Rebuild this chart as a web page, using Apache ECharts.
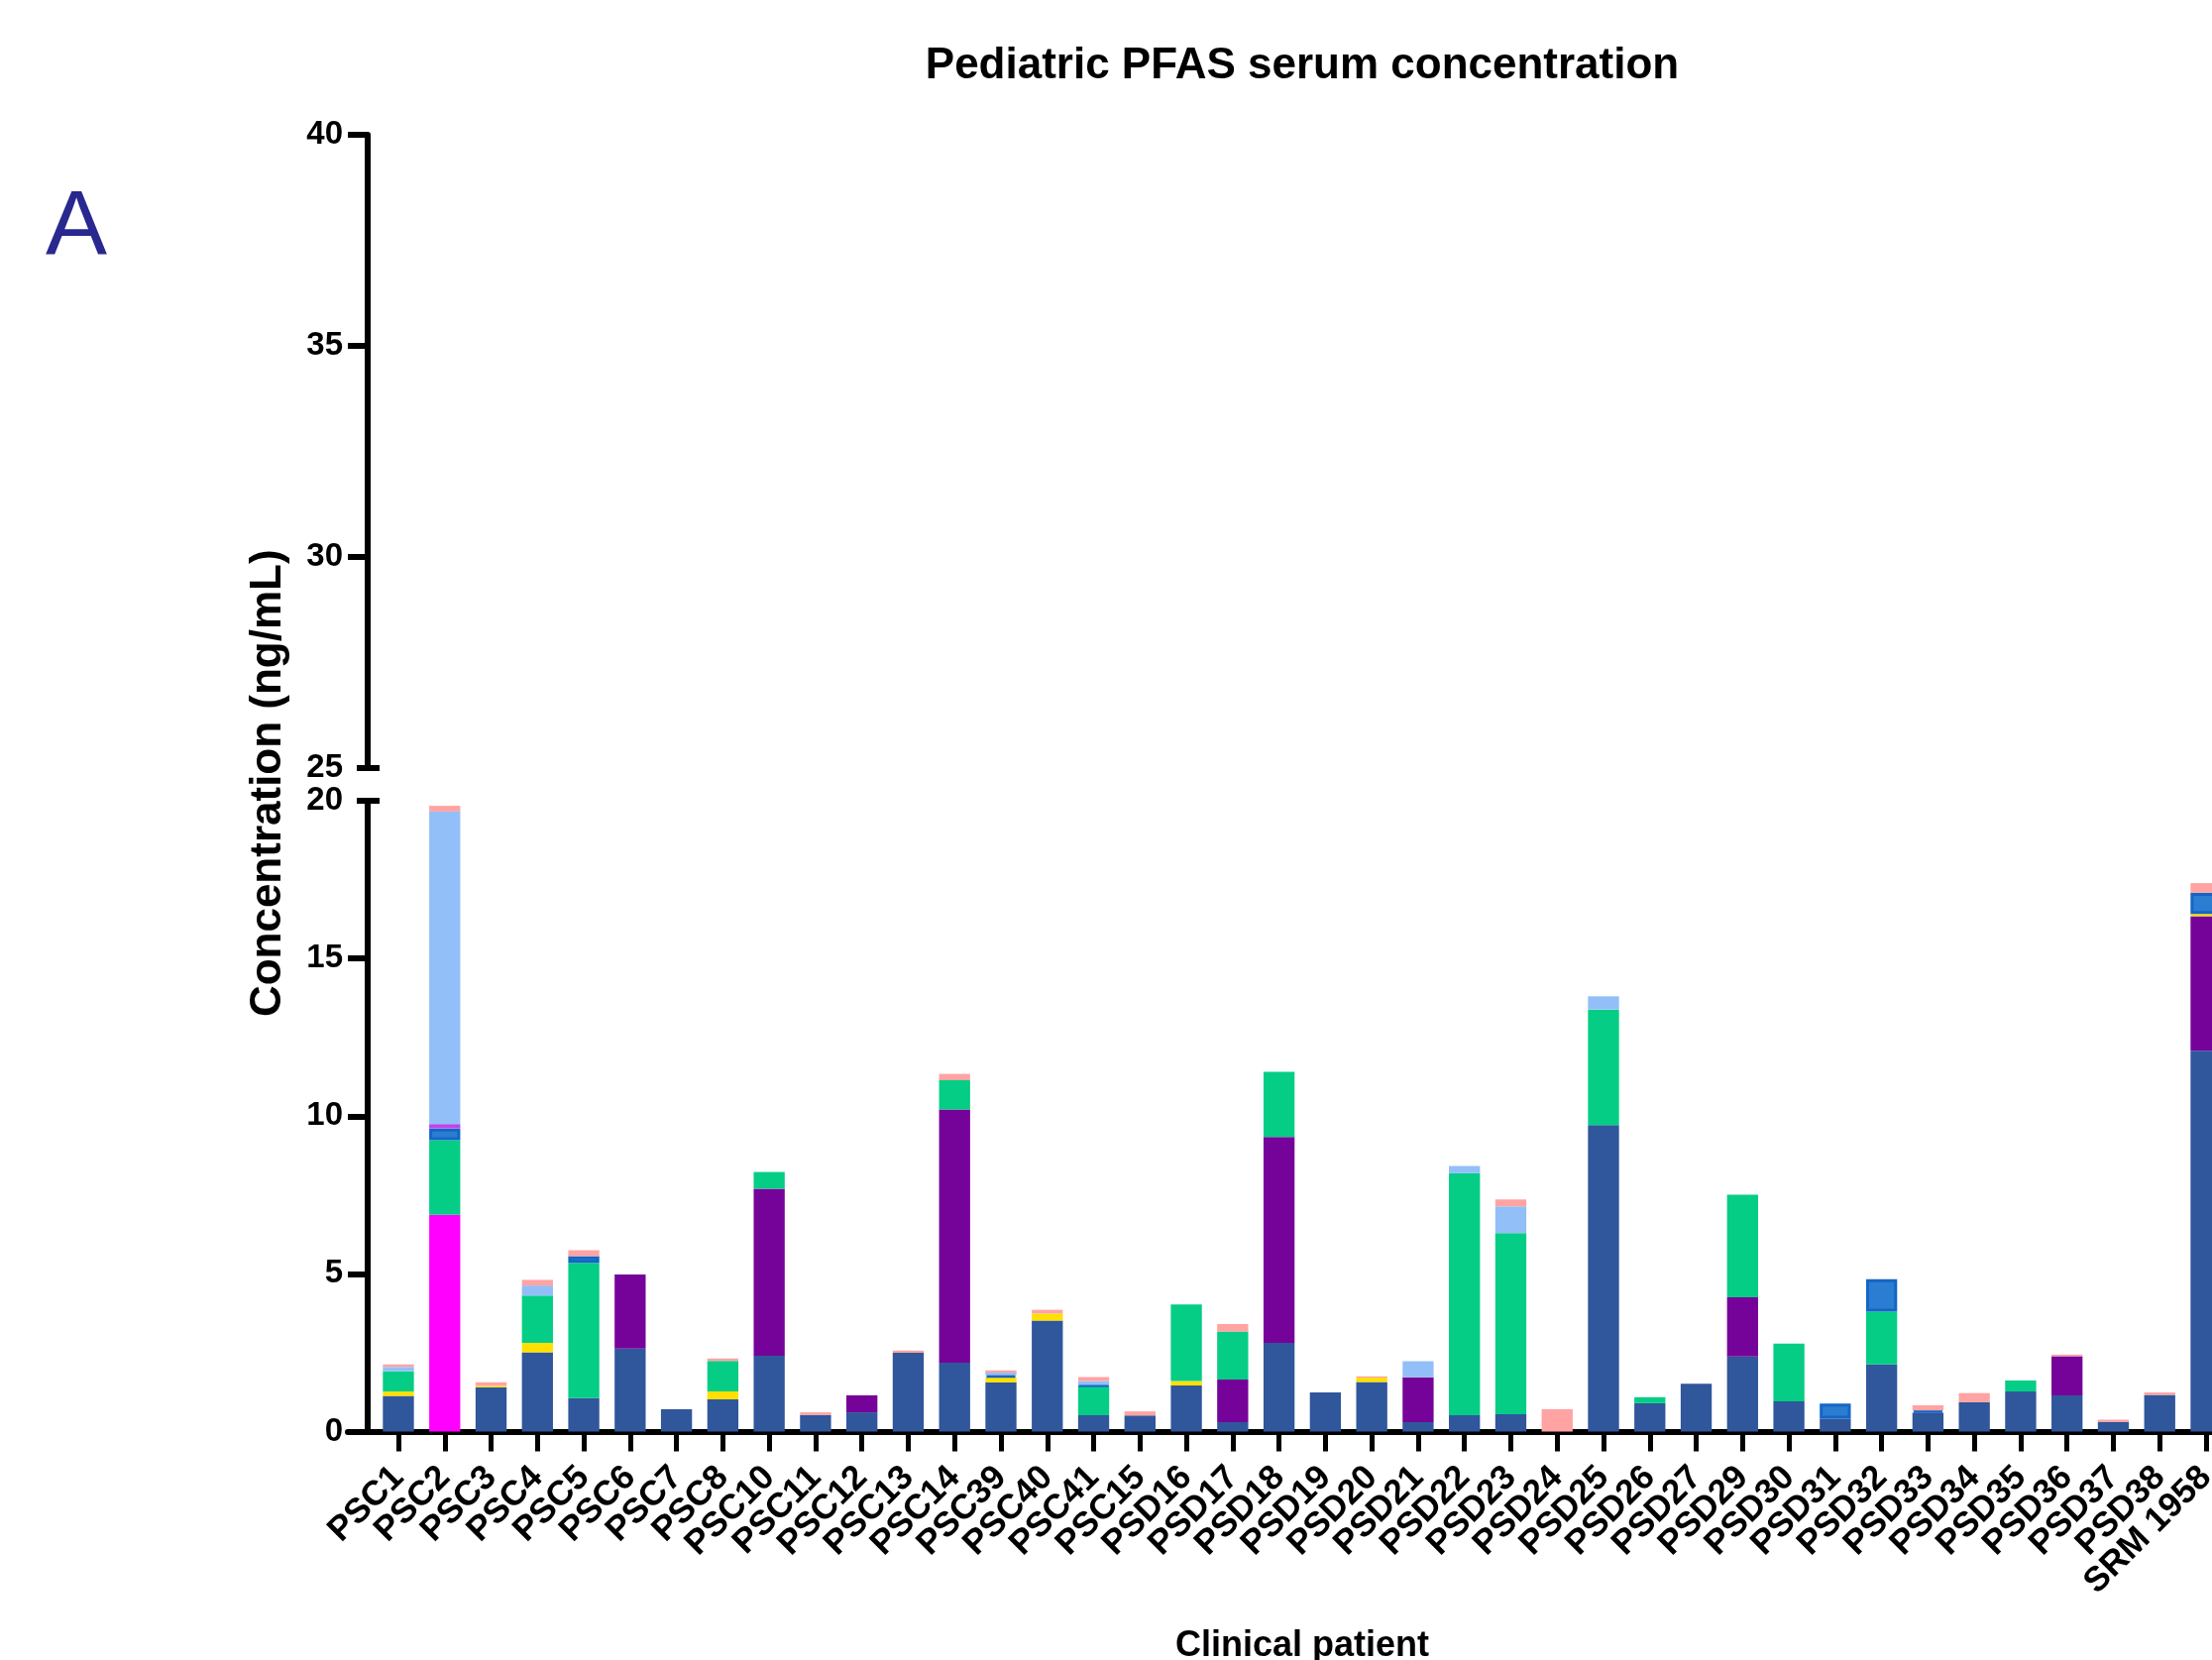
<!DOCTYPE html>
<html>
<head>
<meta charset="utf-8">
<script src="https://cdn.jsdelivr.net/npm/echarts@6/dist/echarts.min.js"></script>
<style>
html,body{margin:0;padding:0;background:#fff;overflow:hidden;}
#chart{width:2270px;height:1675px;}
</style>
</head>
<body>
<div id="chart"></div>
<script>
const categories = ['PSC1','PSC2','PSC3','PSC4','PSC5','PSC6','PSC7','PSC8','PSC10','PSC11','PSC12','PSC13','PSC14','PSC39','PSC40','PSC41','PSC15','PSD16','PSD17','PSD18','PSD19','PSD20','PSD21','PSD22','PSD23','PSD24','PSD25','PSD26','PSD27','PSD29','PSD30','PSD31','PSD32','PSD33','PSD34','PSD35','PSD36','PSD37','PSD38','SRM 1958'];

const analyte1 = [1.13,null,1.41,2.51,1.06,2.63,0.71,1.02,2.40,0.53,0.61,2.50,2.18,1.56,3.52,0.52,0.51,1.46,0.30,2.81,1.24,1.57,0.30,0.52,0.55,null,9.72,0.90,1.52,2.38,0.96,0.41,2.13,0.60,0.93,1.27,1.15,0.30,1.16,12.07];
const analyte2 = [null,6.87,null,null,null,null,null,null,null,null,null,null,null,null,null,null,null,null,null,null,null,null,null,null,null,null,null,null,null,null,null,null,null,null,null,null,null,null,null,null];
const analyte3 = [null,null,null,null,null,2.35,null,null,5.30,null,0.54,null,8.03,null,null,null,null,null,1.35,6.53,null,null,1.42,null,null,null,null,null,null,1.88,null,null,null,null,null,null,1.24,null,null,4.27];
const analyte4 = [0.14,null,0.04,0.30,null,null,null,0.25,null,null,null,null,null,0.16,0.22,null,null,0.14,null,null,null,0.14,null,null,null,null,null,null,null,null,null,null,null,null,null,null,null,null,null,0.07];
const analyte5 = [0.64,2.37,null,1.50,4.29,null,null,0.97,0.53,null,null,null,0.93,null,null,0.93,null,2.43,1.52,2.07,null,null,null,7.67,5.74,null,3.66,0.19,null,3.25,1.83,null,1.67,null,null,0.35,null,null,null,null];
const analyte6 = [null,0.37,null,null,0.21,null,null,null,null,null,null,null,null,0.07,null,0.03,null,null,null,null,null,null,null,null,null,null,null,null,null,null,null,0.48,1.03,0.07,null,null,null,null,null,0.67];
const analyte7 = [null,0.14,null,null,null,null,null,null,null,null,null,null,null,null,null,null,null,null,null,null,null,null,null,null,null,null,null,null,null,null,null,null,null,null,null,null,null,null,null,null];
const analyte8 = [0.14,9.91,null,0.32,null,null,null,null,null,null,null,null,null,0.08,null,0.12,null,null,null,null,null,null,0.51,0.23,0.85,null,0.42,null,null,null,null,null,null,null,null,null,null,null,null,null];
const analyte9 = [0.08,0.18,0.11,0.18,0.19,null,null,0.08,null,0.08,null,0.07,0.20,0.07,0.12,0.13,0.13,null,0.24,null,null,0.04,null,null,0.22,0.71,null,null,null,null,null,null,null,0.16,0.29,null,0.05,0.08,0.08,0.31];

const upperTicks = [25, 30, 35, 40];
const lowerTicks = [0, 5, 10, 15, 20];

const FONT = 'Liberation Sans, Arial, sans-serif';
const seriesDefs = [
  {name:'Analyte 1', data: analyte1, color:'#30569B'},
  {name:'Analyte 2', data: analyte2, color:'#FF00FF'},
  {name:'Analyte 3', data: analyte3, color:'#760399'},
  {name:'Analyte 4', data: analyte4, color:'#FFE000'},
  {name:'Analyte 5', data: analyte5, color:'#05CD85'},
  {name:'Analyte 6', data: analyte6, color:'#2A7DD0', border:'#1466C6'},
  {name:'Analyte 7', data: analyte7, color:'#BD44EA'},
  {name:'Analyte 8', data: analyte8, color:'#93BFF8'},
  {name:'Analyte 9', data: analyte9, color:'#FFA3A3'}
];

const GL = 378.6, GW = 1870.8;
const chart = echarts.init(document.getElementById('chart'), null, {renderer:'canvas'});

const tickLine = {color:'#000', width:6};
const hiddenY = {axisLine:{show:false}, axisLabel:{show:false}, splitLine:{show:false}};
const option = {
  backgroundColor:'#fff',
  animation:false,
  title:[
    {text:'Pediatric PFAS serum concentration', left:1314, top:45, textAlign:'center', padding:0,
     textStyle:{fontFamily:FONT, fontSize:44, fontWeight:'bold', color:'#000'}},
    {text:'A', left:46, top:185, padding:0,
     textStyle:{fontFamily:FONT, fontSize:93, fontWeight:'normal', color:'#28288F'}}
  ],
  grid:[
    {left:GL, width:GW, top:136, height:638.5, outerBoundsMode:'none', containLabel:false},
    {left:GL, width:GW, top:808, height:636.5, outerBoundsMode:'none', containLabel:false},
    {left:351, width:1919, top:136, height:1308.5, outerBoundsMode:'none', containLabel:false}
  ],
  xAxis:[
    {type:'category', gridIndex:0, data:categories, axisLine:{show:false}, axisTick:{show:false}, axisLabel:{show:false}, splitLine:{show:false}},
    {type:'category', gridIndex:1, data:categories, axisLine:{show:false},
     axisTick:{show:true, alignWithLabel:true, length:20, lineStyle:{color:'#000', width:5}},
     axisLabel:{rotate:45, margin:41, interval:0, fontFamily:FONT, fontSize:35, fontWeight:'bold', color:'#000'},
     name:'Clinical patient', nameLocation:'middle', nameGap:199,
     nameTextStyle:{fontFamily:FONT, fontSize:36, fontWeight:'bold', color:'#000'}},
    {type:'value', gridIndex:2, min:0, max:1, axisLine:{show:true, lineStyle:{color:'#000', width:6}}, axisTick:{show:false}, axisLabel:{show:false}, splitLine:{show:false}}
  ],
  yAxis:[
    {type:'value', gridIndex:0, position:'left', min:25, max:40, interval:5, offset:7.6,
     axisLine:{show:true, lineStyle:{color:'#000', width:6}},
     axisTick:{show:true, length:20, customValues:[30,35,40], lineStyle:tickLine},
     axisLabel:{margin:25, customValues:upperTicks, fontFamily:FONT, fontSize:33, fontWeight:'bold', color:'#000'},
     splitLine:{show:false}},
    Object.assign({type:'value', gridIndex:0, position:'left', min:25, max:40, offset:7.6,
     axisTick:{show:true, length:11, customValues:[25], lineStyle:tickLine}}, hiddenY),
    Object.assign({type:'value', gridIndex:0, position:'left', min:25, max:40, offset:7.6,
     axisTick:{show:true, inside:true, length:12, customValues:[25], lineStyle:tickLine}}, hiddenY),
    {type:'value', gridIndex:1, position:'left', min:0, max:20, interval:5, offset:7.6,
     axisLine:{show:true, lineStyle:{color:'#000', width:6}},
     axisTick:{show:true, length:20, customValues:[0,5,10,15], lineStyle:tickLine},
     axisLabel:{margin:25, customValues:lowerTicks, fontFamily:FONT, fontSize:33, fontWeight:'bold', color:'#000'},
     splitLine:{show:false}},
    Object.assign({type:'value', gridIndex:1, position:'left', min:0, max:20, offset:7.6,
     axisTick:{show:true, length:11, customValues:[20], lineStyle:tickLine}}, hiddenY),
    Object.assign({type:'value', gridIndex:1, position:'left', min:0, max:20, offset:7.6,
     axisTick:{show:true, inside:true, length:12, customValues:[20], lineStyle:tickLine}}, hiddenY),
    {type:'value', gridIndex:2, position:'left', min:0, max:1, axisLine:{show:false}, axisTick:{show:false}, axisLabel:{show:false}, splitLine:{show:false},
     name:'Concentration (ng/mL)', nameLocation:'middle', nameGap:58,
     nameTextStyle:{fontFamily:FONT, fontSize:44, fontWeight:'bold', color:'#000'}}
  ],
  series: seriesDefs.map(s => ({
    type:'bar', name:s.name, stack:'total', xAxisIndex:1, yAxisIndex:3,
    barWidth:'67%', data:s.data,
    itemStyle:{color:s.color, borderColor:s.border || s.color, borderWidth:s.border ? 3 : 0}
  }))
};
chart.setOption(option);
</script>
</body>
</html>
